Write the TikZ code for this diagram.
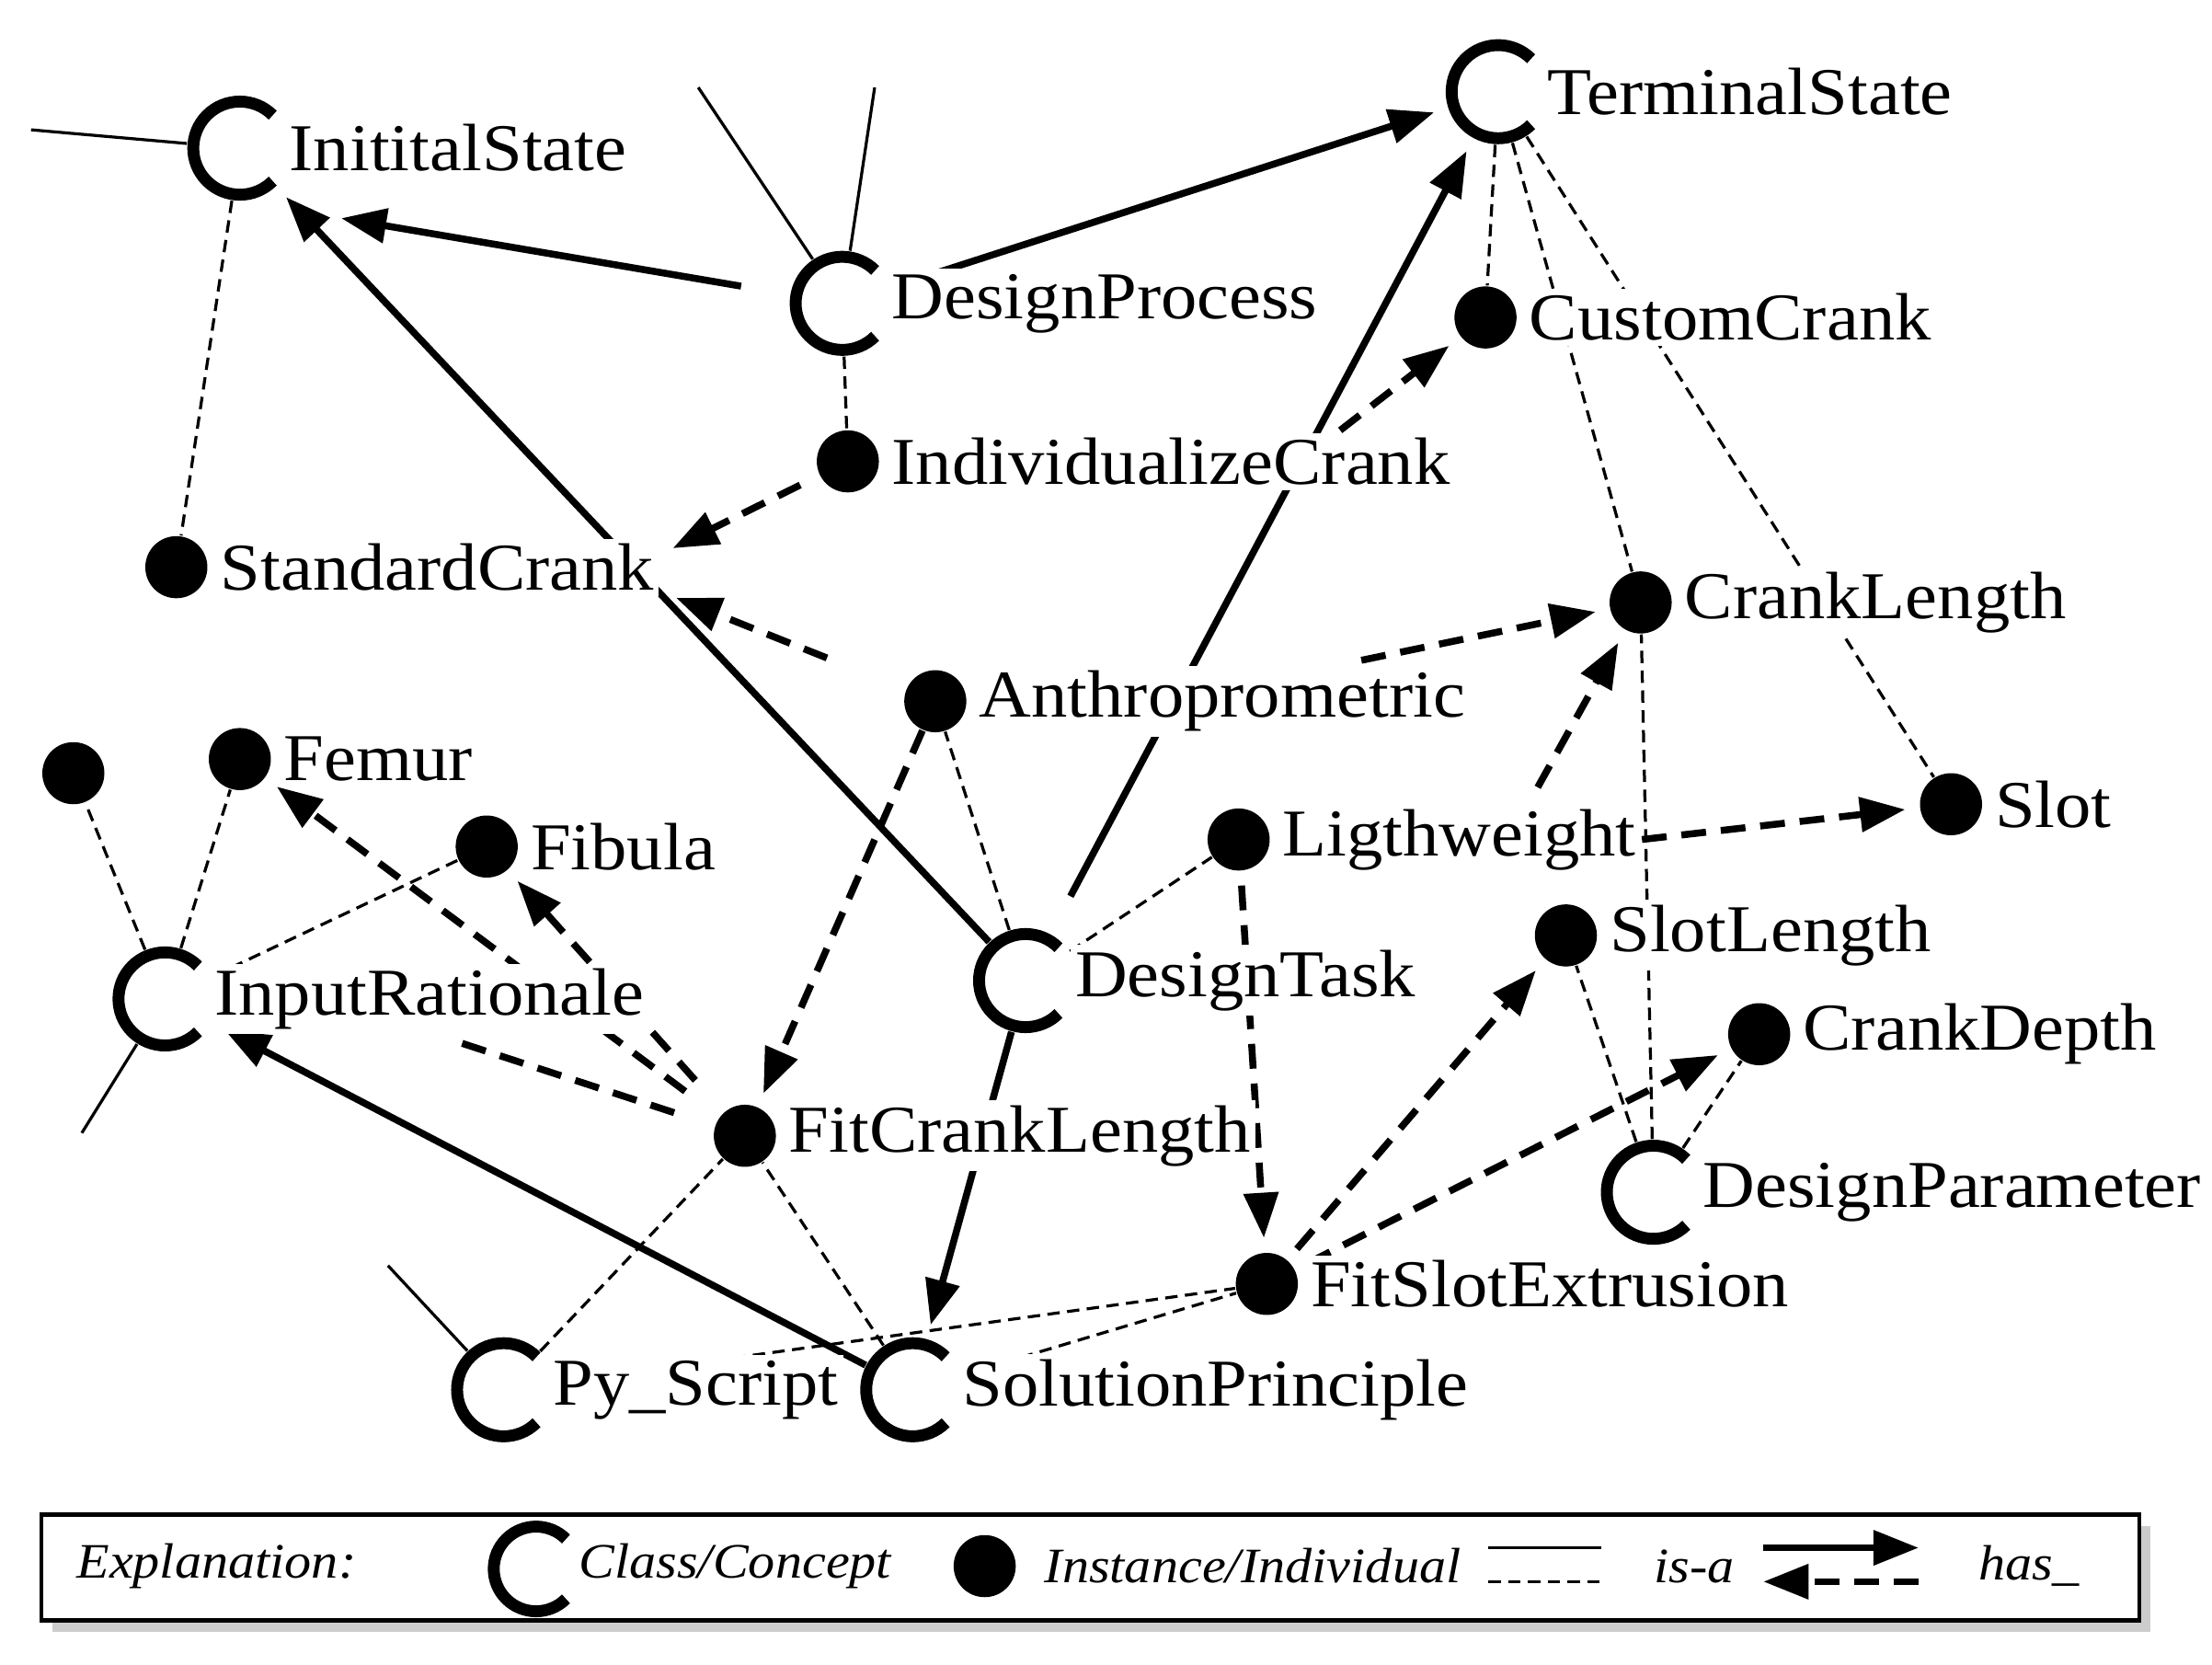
\documentclass[tikz,border=0pt]{standalone}
\usepackage{fontspec}
\setmainfont[FakeStretch=1.08]{Liberation Serif}
\usetikzlibrary{arrows.meta,backgrounds,shadows}
\newcommand\clsnode[3]{\node[circle,minimum size=7.4mm,inner sep=0pt] (#1) at (#2) {};
  \draw[line width=2.4pt] ([shift={(45:3.3mm)}]#2) arc[start angle=45,end angle=315,radius=3.3mm];
  \node[lbl] (l-#1) at ([xshift=3.1mm]#2) {#3};}
\newcommand\indnode[3]{\node[circle,fill=black,minimum size=4.4mm,inner sep=0pt] (#1) at (#2) {};
  \node[lbl] (l-#1) at ([xshift=2.7mm]#2) {#3};}
\begin{document}
\begin{tikzpicture}[x=0.1mm,y=-0.1mm,
  lbl/.style={anchor=west,fill=white,inner sep=1pt,font=\fontsize{13.5}{15}\selectfont},
  isa/.style={line width=0.6pt},
  isad/.style={line width=0.6pt,dash pattern=on 2.5pt off 1.5pt},
  has/.style={line width=1.4pt,-{Triangle[length=3.2mm,width=2.4mm]},shorten >=1mm},
  hasd/.style={has,dash pattern=on 5pt off 3pt},
  leg/.style={font=\itshape\fontsize{10}{12}\selectfont,anchor=west}]
\useasboundingbox (0,0) rectangle (1568,1180);
\clsnode{IS}{170,105}{InititalState}
\clsnode{TS}{1062,65}{TerminalState}
\clsnode{DP}{597,215}{DesignProcess}
\indnode{CC}{1053,225}{CustomCrank}
\indnode{IC}{601,327}{IndividualizeCrank}
\indnode{SC}{125,402}{StandardCrank}
\indnode{CL}{1163,427}{CrankLength}
\indnode{AN}{663,497}{Anthroprometric}
\indnode{FE}{170,538}{Femur}
\node[circle,fill=black,minimum size=4.4mm,inner sep=0pt] (U) at (52,548) {};
\indnode{FI}{345,600}{Fibula}
\indnode{LW}{878,595}{Ligthweight}
\indnode{SL}{1383,570}{Slot}
\indnode{SLL}{1110,663}{SlotLength}
\clsnode{IR}{117,708}{InputRationale}
\clsnode{DT}{727,695}{DesignTask}
\indnode{CD}{1247,733}{CrankDepth}
\indnode{FCL}{528,805}{FitCrankLength}
\clsnode{DPa}{1172,845}{DesignParameter}
\indnode{FSE}{898,910}{FitSlotExtrusion}
\clsnode{PS}{357,985}{Py\_Script}
\clsnode{SP}{647,985}{SolutionPrinciple}
\coordinate (f1) at (22,92);
\coordinate (f2) at (495,62);
\coordinate (f3) at (620,62);
\coordinate (f4) at (58,803);
\coordinate (f5) at (275,897);
\coordinate (cIC) at (950,305);
\coordinate (cLW) at (1090,558);
\coordinate (cAN) at (965,468);
\coordinate (cIR) at (320,737);
\coordinate (cIS) at (232,153);
\coordinate (cSC1) at (468,393);
\coordinate (cSC2) at (470,420);
\begin{pgfonlayer}{background}
\draw[isa] (f1) -- (IS); \draw[isa] (f2) -- (DP); \draw[isa] (f3) -- (DP);
\draw[isa] (f4) -- (IR); \draw[isa] (f5) -- (PS);
\draw[has,shorten <=3.5mm] (DP) -- (cIS);
\draw[has,shorten <=3mm] (DP) -- (TS);
\draw[has] (DT) -- (IS);
\draw[has,shorten <=3mm] (DT) -- (TS);
\draw[has] (DT) -- (SP);
\draw[has] (SP) -- (IR);
\draw[hasd,shorten <=1.5mm] (IC) -- (cSC1);
\draw[hasd] (cIC) -- (CC);
\draw[hasd,shorten <=6mm] (AN) -- (cSC2);
\draw[hasd] (cAN) -- (CL);
\draw[hasd] (cLW) -- (CL);
\draw[hasd] (l-LW.east) -- (SL);
\draw[hasd,shorten <=1mm] (LW) -- (FSE);
\draw[hasd] (AN) -- (FCL);
\draw[hasd,shorten <=3mm] (FCL) -- (FE);
\draw[hasd,shorten <=3mm] (FCL) -- (FI);
\draw[line width=1.4pt,dash pattern=on 5pt off 3pt,shorten <=3mm] (FCL) -- (cIR);
\draw[hasd,shorten <=1mm] (FSE) -- (SLL);
\draw[hasd,shorten <=1mm] (FSE) -- (CD);
\draw[isad] (IS) -- (SC); \draw[isad] (DP) -- (IC);
\draw[isad] (TS) -- (CC); \draw[isad] (TS) -- (CL); \draw[isad] (TS) -- (SL);
\draw[isad] (IR) -- (U); \draw[isad] (IR) -- (FE); \draw[isad] (IR) -- (FI);
\draw[isad] (DT) -- (AN); \draw[isad] (DT) -- (LW);
\draw[isad] (DPa) -- (CL); \draw[isad] (DPa) -- (SLL); \draw[isad] (DPa) -- (CD);
\draw[isad] (PS) -- (FCL); \draw[isad] (PS) -- (FSE);
\draw[isad] (SP) -- (FCL); \draw[isad] (SP) -- (FSE);
\end{pgfonlayer}
% legend
\node[draw,line width=0.8pt,fill=white,drop shadow={shadow xshift=0.8mm,shadow yshift=-0.8mm,fill=black!40},minimum width=148.7mm,minimum height=7.5mm,anchor=north west,inner sep=0] (box) at (28,1072) {};
\node[leg] (ex) at (42,1110) {Explanation:};
\node[circle,minimum size=7mm,inner sep=0] (lc) at (380,1112) {};
\draw[line width=2.4pt] ([shift={(45:3mm)}]380,1112) arc[start angle=45,end angle=315,radius=3mm];
\node[leg] (lct) at (398,1110) {Class/Concept};
\node[circle,fill=black,minimum size=4.4mm,inner sep=0] (ld) at (698,1110) {};
\node[leg] (ldt) at (728,1110) {Instance/Individual};
\coordinate (a1) at (1055,1097); \coordinate (a2) at (1135,1097);
\coordinate (b1) at (1055,1121); \coordinate (b2) at (1135,1121);
\draw[isa] (a1) -- (a2); \draw[isad] (b1) -- (b2);
\node[leg] (isat) at (1160,1110) {is-a};
\coordinate (c1) at (1250,1097); \coordinate (c2) at (1360,1097);
\coordinate (d1) at (1360,1121); \coordinate (d2) at (1250,1121);
\draw[has,shorten >=0pt] (c1) -- (c2); \draw[hasd,shorten >=0pt] (d1) -- (d2);
\node[leg] (hast) at (1390,1110) {has\_};
\end{tikzpicture}
\end{document}
